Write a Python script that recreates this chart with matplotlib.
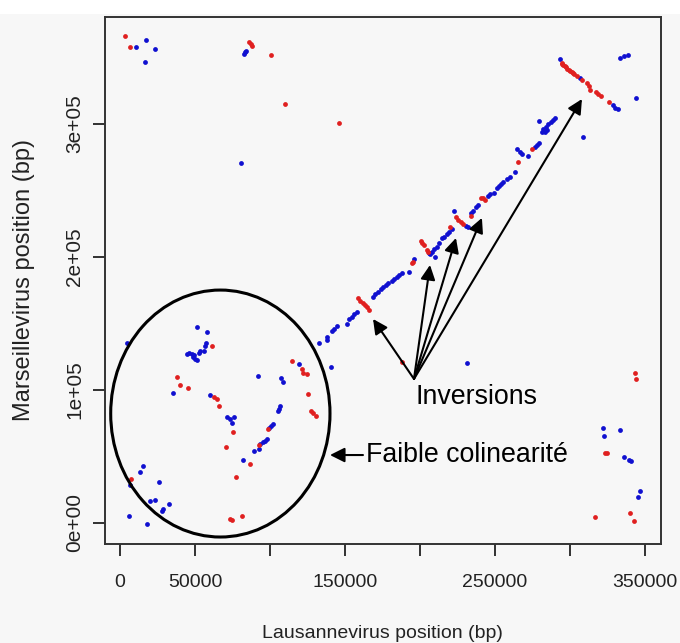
import matplotlib
matplotlib.use("Agg")
import matplotlib.pyplot as plt
from matplotlib.patches import Ellipse, Rectangle
from matplotlib import font_manager

plt.rcParams['font.family'] = ['Liberation Sans', 'DejaVu Sans']

# ---- data (bp) ----
blue_x = [10500, 17100, 23500, 16500, 82700, 83500, 84200, 80900,
          293500, 306700, 328900, 330000, 331800, 333300, 336200, 338900, 344000, 308700,
          290000, 288900, 287300, 285500, 284000, 282200, 279500, 284900, 283300, 281100,
          279300, 278200, 276700, 272200, 264900, 266700, 267800, 263300, 260000, 257800,
          255500, 254000, 252500, 251100, 249500, 246700, 245500, 238900, 237300, 235500,
          233800, 222700, 230700, 232200,
          221100, 219500, 217800, 216000, 214500, 212900, 211100, 209300, 207800, 206200,
          210000, 206700, 196000, 192900, 187800, 186200, 184500, 182700, 181100, 178900,
          177300, 175500, 174000, 172200, 170000, 168900,
          157800, 156000, 154500, 152900, 151500, 144500, 142800, 141300, 138200, 137700,
          132500, 140500, 231500,
          119100, 107300, 108500, 92200, 106700, 106200, 105500, 101800, 100500, 99500,
          97800, 96700, 95100, 93300, 92900, 89500, 82200, 71500, 73300, 74500,
          76000, 60000, 35500, 51100, 58200, 57300, 56500, 56200, 53300, 52500,
          51100, 50000, 48900, 47800, 46200, 44900, 49300, 4900, 15100, 13300,
          26200, 23300, 20000, 32900, 28900, 28000, 6200, 17800, 6900,
          321800, 322700, 333300, 336000, 339500, 340500, 346700, 345300]
blue_y = [358200, 363200, 356200, 346900, 352700, 354000, 354900, 270500,
          348800, 334400, 314100, 312300, 311300, 349700, 351000, 351700, 319600, 290300,
          304600, 303100, 301600, 300000, 298000, 296100, 302300, 295500, 294300, 294300,
          286000, 284300, 282500, 276000, 281000, 279200, 277500, 263700, 260400, 258700,
          256700, 254900, 253400, 251700, 248400, 247200, 245900, 239100, 237400, 234900,
          232900, 234900, 223600, 222800,
          220900, 219100, 217300, 215300, 214100, 210300, 207800, 205800, 204000, 203300,
          200300, 202300, 198300, 189000, 187800, 186300, 184800, 183300, 182000, 180300,
          179000, 177200, 175700, 173900, 172000, 170200,
          158900, 157200, 155100, 153600, 149600, 147800, 146000, 144500, 139900, 137600,
          135000, 117300, 120100,
          119300, 109300, 105800, 110500, 88000, 85700, 84200, 74400, 72900, 71400,
          62900, 61900, 60700, 59400, 55900, 54400, 47400, 79900, 78000, 75400,
          79500, 96000, 98000, 147200, 143600, 135600, 133100, 129600, 129100, 127600,
          122600, 123600, 125100, 127100, 127600, 127100, 126100, 135100, 42900, 38600,
          30800, 17300, 16300, 14300, 10300, 9300, 5300, -1000, 28600,
          71700, 65700, 69900, 49900, 47400, 46600, 23800, 19800]

red_x = [3300, 6500, 86000, 87100, 88200, 100700, 110200, 145800,
         294500, 295000, 295500, 296700, 297300, 298200, 299100, 300100, 301100, 301900,
         302700, 305000, 308000, 311100, 312900, 313300, 317300, 318900, 320500, 326200,
         274700, 265500, 243300, 242200, 240500, 233800, 224000, 225500, 227100, 228900, 220000,
         200500, 201500, 202700, 204500, 205500, 194500, 195500,
         158900, 160000, 161800, 163300, 164900, 166200, 187800,
         114700, 121100, 121800, 124500, 125100, 127100, 128900, 130700, 98900, 92900,
         86700, 77300, 73300, 74500, 81100, 70500, 75100, 62700, 64500, 66200,
         38200, 40000, 45100, 61500, 7500,
         343300, 343800, 323500, 324900, 316700, 340000, 342500]
red_y = [366200, 357700, 361500, 360000, 358500, 352200, 315300, 300800,
         346100, 345300, 344400, 343500, 342700, 341600, 340700, 339800, 338900, 338300,
         337600, 335800, 333100, 330700, 328600, 325600, 324300, 322600, 321100, 316400,
         281000, 271700, 242900, 244400, 244200, 231100, 230300, 227900, 226600, 224800, 222400,
         212300, 210800, 209100, 205300, 204000, 195300, 196500,
         169000, 167200, 165200, 163900, 162200, 160200, 121300,
         121800, 115600, 113000, 112000, 96800, 84200, 82900, 80700, 70500, 58700,
         44400, 34600, 2800, 2300, 5500, 56900, 68700, 94500, 93500, 88200,
         109600, 104000, 101500, 133300, 33300,
         112600, 108500, 52900, 52400, 4700, 7300, 1700]

x_ticks = [0, 50000, 100000, 150000, 200000, 250000, 300000, 350000]
x_tick_labels = ['0', '50000', '', '150000', '', '250000', '', '350000']
y_ticks = [0, 100000, 200000, 300000]
y_tick_labels = ['0e+00', '1e+05', '2e+05', '3e+05']

# annotation anchors (bp)
inv_origin = (196000, 108300)
inv_targets = [(168700, 153400), (206700, 194000), (224000, 214300),
               (241300, 229400), (308000, 318800)]
ell_center = (66900, 82300)
ell_w, ell_h = 146200, 185700

# The reference text looks vertically stretched: use a narrow face for horizontal text
try:
    font_manager.findfont(font_manager.FontProperties(family='Liberation Sans Narrow'),
                          fallback_to_default=False)
    hfam = ['Liberation Sans Narrow', 'Liberation Sans', 'DejaVu Sans']
    xt_size, xl_size, ann_size = 16.5, 17, 23.5
except Exception:
    hfam = ['Liberation Sans', 'DejaVu Sans']
    xt_size, xl_size, ann_size = 14, 14, 19.3

bg = '#f7f7f7'
txt = '#222222'
fig = plt.figure(figsize=(6.8, 6.43), dpi=100, facecolor=bg)
fig.patches.append(Rectangle((0, 1 - 14 / 643), 1, 14 / 643, transform=fig.transFigure,
                             facecolor='white', edgecolor='none', zorder=0))
ax = fig.add_axes([104.7 / 680, (643 - 544) / 643, (660.7 - 104.7) / 680, (544 - 16.7) / 643])
ax.set_facecolor(bg)

ax.scatter(blue_x, blue_y, s=12, color='#1010d0', linewidths=0, zorder=3)
ax.scatter(red_x, red_y, s=12, color='#e02020', linewidths=0, zorder=3)

ax.set_xlim(-10200, 360500)
ax.set_ylim(-15800, 380700)

ax.set_xticks(x_ticks)
ax.set_xticklabels(x_tick_labels, family=hfam, fontsize=xt_size, color=txt)
ax.set_yticks(y_ticks)
ax.set_yticklabels(y_tick_labels, rotation=90, va='center', fontsize=15, color=txt)
ax.tick_params(axis='both', direction='out', length=8.6, width=1.3, colors='#222222')
ax.tick_params(axis='x', pad=13)
ax.tick_params(axis='y', pad=6)

for s in ax.spines.values():
    s.set_linewidth(1.4)
    s.set_color('#333333')

ax.set_xlabel('Lausannevirus position (bp)', family=hfam, fontsize=xl_size, color=txt)
ax.xaxis.set_label_coords(0.5, (544 - 633) / 527.3)
ax.xaxis.label.set_va('center')
ax.set_ylabel('Marseillevirus position (bp)', fontsize=17, color=txt)
ax.yaxis.set_label_coords((24 - 104.7) / 556, 0.5)
ax.yaxis.label.set_va('center')

ax.add_patch(Ellipse(ell_center, ell_w, ell_h, fill=False, edgecolor='black',
                     linewidth=2.2, zorder=4))

arrow_kw = dict(arrowstyle='-|>', mutation_scale=22, lw=1.5, color='black',
                shrinkA=0, shrinkB=0)
for tx, ty in inv_targets:
    ax.annotate('', xy=(tx, ty), xytext=inv_origin, arrowprops=arrow_kw, zorder=5)
ax.text(196700, 94700, 'Inversions', family=hfam, fontsize=ann_size, ha='left',
        va='center', color='black')

ax.annotate('', xy=(140000, 51100), xytext=(162000, 51100), arrowprops=arrow_kw, zorder=5)
ax.text(164000, 51100, 'Faible colinearité', family=hfam, fontsize=ann_size, ha='left',
        va='center', color='black')

fig.savefig('out.png', dpi=100, facecolor=bg)
